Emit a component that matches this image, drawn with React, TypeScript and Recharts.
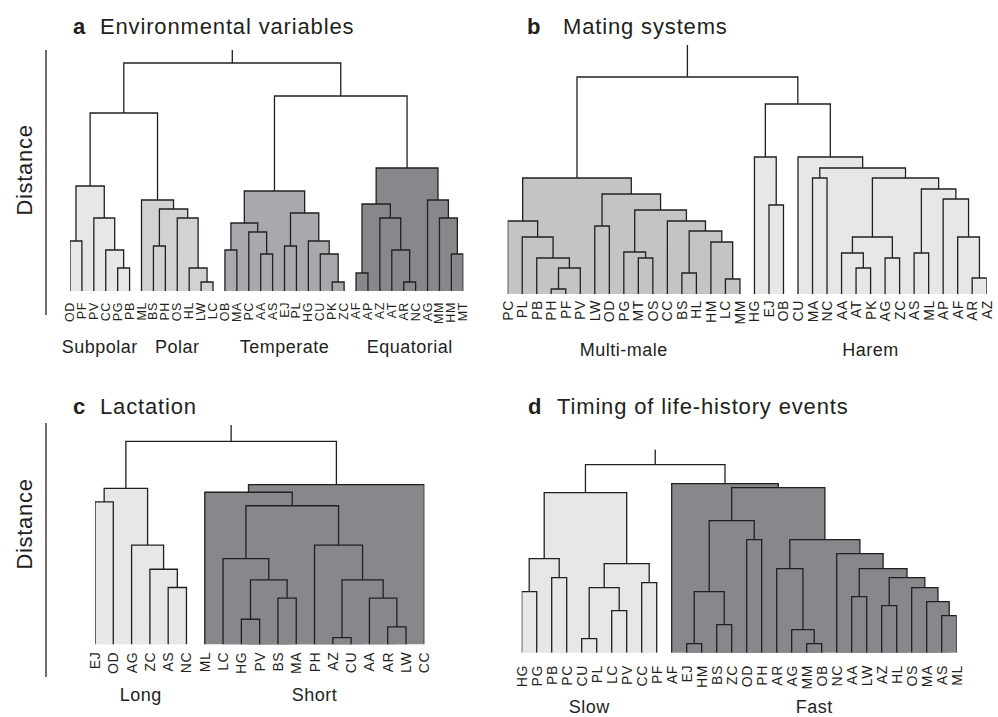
import React from "react";
import { ComposedChart, Line, XAxis, YAxis, ReferenceArea } from "recharts";

// a node is a leaf name or [left, right, merge distance]
type Tree = string | [Tree, Tree, number];

const INK = "#231f20";
const FONT = '"Liberation Sans", Arial, Helvetica, sans-serif';

const LIGHT = "#e6e7e8";
const PALE = "#d1d2d4";
const MID = "#c3c4c6";
const GREY = "#a7a9ac";
const DARK = "#87888b";

// a  Environmental variables
const subpolar: Tree = [["OD", "PF", 0.5], ["PV", ["CC", ["PG", "PB", 0.23], 0.41], 0.73], 1.05];
const polar: Tree = ["ML", [["BS", "PH", 0.45], ["OS", ["HL", ["LW", "LC", 0.09], 0.23], 0.73], 0.82], 0.91];
const temperate: Tree = [
  [["OB", "MA", 0.41], ["PC", ["AA", "AS", 0.37], 0.59], 0.68],
  [["EJ", "PL", 0.45], ["HG", ["CU", ["PK", "ZC", 0.09], 0.37], 0.5], 0.78],
  1.0,
];
const equatorial: Tree = [
  [["AF", "AP", 0.18], ["AZ", ["AT", ["AR", "NC", 0.09], 0.41], 0.73], 0.87],
  ["AG", ["MM", ["HM", "MT", 0.37], 0.73], 0.91],
  1.23,
];
const envTree: Tree = [[subpolar, polar, 1.78], [temperate, equatorial, 1.95], 2.28];
const envFills: [Tree, string][] = [[subpolar, LIGHT], [polar, PALE], [temperate, GREY], [equatorial, DARK]];
const envGroups: [string, string, string][] = [
  ["Subpolar", "OD", "PB"],
  ["Polar", "ML", "LC"],
  ["Temperate", "OB", "ZC"],
  ["Equatorial", "AF", "MT"],
];

// b  Mating systems
const multiMale: Tree = [
  ["PC", ["PL", ["PB", [["PH", "PF", 0.05], "PV", 0.26], 0.36], 0.57], 0.73],
  [
    ["LW", "OD", 0.68],
    [
      ["PG", ["MT", "OS", 0.36], 0.42],
      ["CC", [["BS", "HL", 0.21], ["HM", ["LC", "MM", 0.15], 0.52], 0.63], 0.73],
      0.84,
    ],
    1.0,
  ],
  1.16,
];
const haremA: Tree = ["HG", ["EJ", "OB", 0.89], 1.37];
const haremB: Tree = [
  "CU",
  [
    ["MA", "NC", 1.16],
    [
      [["AA", ["AT", "PK", 0.26], 0.41], ["AG", "ZC", 0.36], 0.57],
      [["AS", "ML", 0.41], ["AP", ["AF", ["AR", "AZ", 0.16], 0.57], 0.95], 1.05],
      1.16,
    ],
    1.26,
  ],
  1.37,
];
const matingTree: Tree = [multiMale, [haremA, haremB, 1.9], 2.17];
const matingFills: [Tree, string][] = [[multiMale, MID], [haremA, LIGHT], [haremB, LIGHT]];
const matingGroups: [string, string, string][] = [
  ["Multi-male", "PC", "MM"],
  ["Harem", "HG", "AZ"],
];

// c  Lactation
const longLact: Tree = [["EJ", "OD", 1.48], ["AG", ["ZC", ["AS", "NC", 0.59], 0.78], 1.03], 1.62];
const shortLact: Tree = [
  [
    "ML",
    [
      ["LC", [["HG", "PV", 0.26], ["BS", "MA", 0.48], 0.67], 0.89],
      ["PH", [["AZ", "CU", 0.07], ["AA", ["AR", "LW", 0.18], 0.48], 0.67], 1.03],
      1.44,
    ],
    1.58,
  ],
  "CC",
  1.66,
];
const lactTree: Tree = [longLact, shortLact, 2.11];
const lactFills: [Tree, string][] = [[longLact, LIGHT], [shortLact, DARK]];
const lactGroups: [string, string, string][] = [
  ["Long", "EJ", "NC"],
  ["Short", "ML", "CC"],
];

// d  Timing of life-history events
const slow: Tree = [
  [["HG", "PG", 0.61], ["PB", "PC", 0.75], 0.94],
  [[["CU", "PL", 0.14], ["LC", "PV", 0.42], 0.65], ["CC", "PF", 0.7], 0.89],
  1.6,
];
const fast: Tree = [
  "AF",
  [
    [[["EJ", "HM", 0.09], ["BS", "ZC", 0.28], 0.61], ["OD", "PH", 1.13], 1.32],
    [
      ["AR", ["AG", ["MM", "OB", 0.09], 0.23], 0.84],
      ["NC", [["AA", "LW", 0.56], [["AZ", "HL", 0.47], ["OS", ["MA", ["AS", "ML", 0.37], 0.51], 0.65], 0.75], 0.84], 0.99],
      1.13,
    ],
    1.65,
  ],
  1.69,
];
const timingTree: Tree = [slow, fast, 1.88];
const timingFills: [Tree, string][] = [[slow, LIGHT], [fast, DARK]];
const timingGroups: [string, string, string][] = [
  ["Slow", "HG", "PF"],
  ["Fast", "AF", "ML"],
];

type Seg = { x: number; y: number | null };
type Rect = { x1: number; x2: number; y2: number; fill: string };

// walk the tree: leaves get consecutive positions, a merge sits midway between its children
function buildDendrogram(tree: Tree, fillList: [Tree, string][], stub: number) {
  const fills = new Map(fillList);
  const leaves: string[] = [];
  const segs: Seg[] = [];
  const rects: Rect[] = [];
  const walk = (node: Tree, fill?: string): { x: number; h: number } => {
    const f = fills.get(node) ?? fill;
    if (typeof node === "string") {
      leaves.push(node);
      return { x: leaves.length - 1, h: 0 };
    }
    const [l, r, h] = node;
    const a = walk(l, f);
    const b = walk(r, f);
    segs.push({ x: a.x, y: a.h }, { x: a.x, y: h }, { x: b.x, y: h }, { x: b.x, y: b.h }, { x: b.x, y: null });
    if (f) rects.push({ x1: a.x, x2: b.x, y2: h, fill: f });
    return { x: (a.x + b.x) / 2, h };
  };
  const root = walk(tree);
  segs.push({ x: root.x, y: root.h }, { x: root.x, y: stub });
  return { leaves, segs, rects };
}

type PanelProps = {
  tree: Tree;
  stub: number;
  fills: [Tree, string][];
  groups: [string, string, string][];
  axis: boolean;
  box: { left: number; top: number; width: number; height: number };
  margin: { top: number; right: number; bottom: number; left: number };
  pad: { left: number; right: number };
  domain: [number, number];
  leafAxisH: number;
  leafDy: number;
  leafFont: number;
  groupDy: number;
};

function Dendrogram(p: PanelProps) {
  const { leaves, segs, rects } = buildDendrogram(p.tree, p.fills, p.stub);
  const n = leaves.length;
  const groupAt = p.groups.map(([, a, b]) => (leaves.indexOf(a) + leaves.indexOf(b)) / 2);

  return (
    <div style={{ position: "absolute", left: p.box.left, top: p.box.top }}>
      <ComposedChart width={p.box.width} height={p.box.height} margin={p.margin}>
        <XAxis
          type="number"
          dataKey="x"
          domain={[0, n - 1]}
          allowDataOverflow
          ticks={leaves.map((_, i) => i)}
          interval={0}
          padding={p.pad}
          height={p.leafAxisH}
          axisLine={false}
          tickLine={false}
          tickSize={0}
          tickMargin={0}
          tick={(t: any) => {
            const y = t.y + p.leafDy;
            return (
              <text
                x={t.x}
                y={y}
                transform={`rotate(-90 ${t.x} ${y})`}
                textAnchor="end"
                dominantBaseline="central"
                fontSize={p.leafFont}
                fontFamily={FONT}
                letterSpacing={0.6}
                fill={INK}
              >
                {leaves[t.payload.value]}
              </text>
            );
          }}
        />
        <XAxis
          xAxisId="groups"
          type="number"
          dataKey="x"
          domain={[0, n - 1]}
          allowDataOverflow
          ticks={groupAt}
          interval={0}
          padding={p.pad}
          height={30}
          axisLine={false}
          tickLine={false}
          tickSize={0}
          tickMargin={0}
          tick={(t: any) => (
            <text
              x={t.x}
              y={t.y + p.groupDy}
              textAnchor="middle"
              dominantBaseline="central"
              fontSize={18}
              fontFamily={FONT}
              letterSpacing={0.5}
              fill={INK}
            >
              {p.groups[t.index]?.[0]}
            </text>
          )}
        />
        <YAxis
          type="number"
          domain={p.domain}
          allowDataOverflow
          hide={!p.axis}
          width={1}
          tick={false}
          tickLine={false}
          axisLine={{ stroke: INK, strokeWidth: 1.3 }}
        />
        {rects.map((r, i) => (
          <ReferenceArea
            key={i}
            x1={r.x1}
            x2={r.x2}
            y1={0}
            y2={r.y2}
            fill={r.fill}
            fillOpacity={1}
            stroke="none"
            ifOverflow="visible"
          />
        ))}
        <Line
          data={segs}
          dataKey="y"
          type="linear"
          stroke={INK}
          strokeWidth={1.3}
          dot={false}
          activeDot={false}
          connectNulls={false}
          isAnimationActive={false}
        />
      </ComposedChart>
    </div>
  );
}

const titleStyle = { fontFamily: FONT, fontSize: 22, letterSpacing: 0.85, fill: INK };

export default function App() {
  return (
    <div style={{ position: "absolute", left: 0, top: 0, width: 998, height: 717, background: "#fff", fontFamily: FONT }}>
      <Dendrogram
        tree={envTree}
        stub={2.41}
        fills={envFills}
        groups={envGroups}
        axis
        box={{ left: 0, top: 0, width: 490, height: 370 }}
        margin={{ top: 50, right: 20, bottom: 5, left: 45 }}
        pad={{ left: 24, right: 6.7 }}
        domain={[-0.24, 2.41]}
        leafAxisH={20}
        leafDy={-13}
        leafFont={12.5}
        groupDy={12}
      />
      <Dendrogram
        tree={matingTree}
        stub={2.49}
        fills={matingFills}
        groups={matingGroups}
        axis={false}
        box={{ left: 490, top: 0, width: 508, height: 370 }}
        margin={{ top: 39, right: 5, bottom: 6, left: 10 }}
        pad={{ left: 7.7, right: 6.3 }}
        domain={[0, 2.55]}
        leafAxisH={40}
        leafDy={6}
        leafFont={14}
        groupDy={16}
      />
      <Dendrogram
        tree={lactTree}
        stub={2.28}
        fills={lactFills}
        groups={lactGroups}
        axis
        box={{ left: 0, top: 370, width: 490, height: 347 }}
        margin={{ top: 53, right: 20, bottom: 0, left: 45 }}
        pad={{ left: 49, right: 45.7 }}
        domain={[-0.34, 2.3]}
        leafAxisH={10}
        leafDy={-25.3}
        leafFont={14}
        groupDy={8}
      />
      <Dendrogram
        tree={timingTree}
        stub={2.03}
        fills={timingFills}
        groups={timingGroups}
        axis={false}
        box={{ left: 490, top: 370, width: 508, height: 347 }}
        margin={{ top: 74.7, right: 5, bottom: 0.3, left: 10 }}
        pad={{ left: 21.7, right: 36.3 }}
        domain={[0, 2.08]}
        leafAxisH={34}
        leafDy={12.3}
        leafFont={14}
        groupDy={20.3}
      />
      {/* panel titles and distance labels */}
      <svg width={998} height={717} style={{ position: "absolute", left: 0, top: 0, pointerEvents: "none" }}>
        <text x={73} y={33.5} {...titleStyle} fontWeight="bold">a</text>
        <text x={100} y={33.5} {...titleStyle}>Environmental variables</text>
        <text x={527} y={33.5} {...titleStyle} fontWeight="bold">b</text>
        <text x={563} y={33.5} {...titleStyle}>Mating systems</text>
        <text x={73} y={414} {...titleStyle} fontWeight="bold">c</text>
        <text x={100} y={414} {...titleStyle}>Lactation</text>
        <text x={528} y={413.5} {...titleStyle} fontWeight="bold">d</text>
        <text x={557} y={413.5} {...titleStyle}>Timing of life-history events</text>
        <text x={24} y={170} transform="rotate(-90 24 170)" textAnchor="middle" dominantBaseline="central" {...titleStyle} letterSpacing={0.7}>
          Distance
        </text>
        <text x={24} y={524} transform="rotate(-90 24 524)" textAnchor="middle" dominantBaseline="central" {...titleStyle} letterSpacing={0.7}>
          Distance
        </text>
      </svg>
    </div>
  );
}
